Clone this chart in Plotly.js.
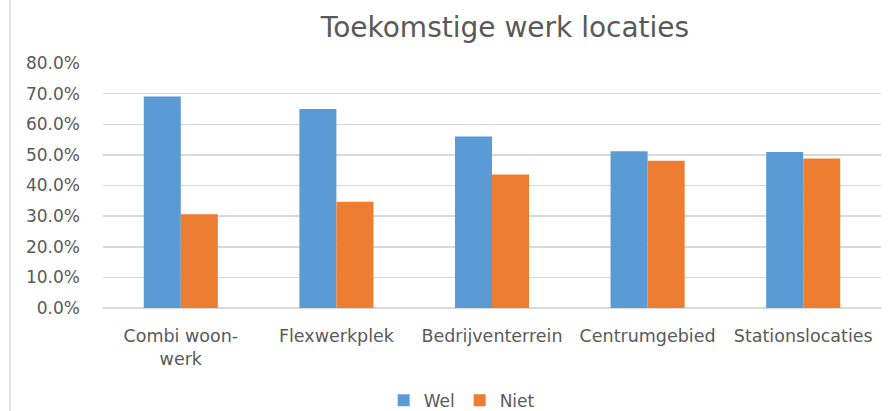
<!DOCTYPE html>
<html>
<head>
<meta charset="utf-8">
<script src="https://cdn.plot.ly/plotly-3.0.1.min.js"></script>
<style>html,body{margin:0;padding:0;background:#fff;}#chart{width:896px;height:411px;}</style>
</head>
<body>
<div id="chart"></div>
<script>
const categories = ["Combi woon-<br>werk", "Flexwerkplek", "Bedrijventerrein", "Centrumgebied", "Stationslocaties"];
const welValues = [69.1, 65.0, 56.0, 51.2, 50.9];
const nietValues = [30.6, 34.7, 43.6, 48.1, 48.8];
const yTicks = [0, 10, 20, 30, 40, 50, 60, 70, 80];

const font = "DejaVu Sans, sans-serif";
const textColor = "#595959";

const traces = [
  {type: "bar", name: "Wel", x: categories, y: welValues, marker: {color: "#5B9BD5"}, hoverinfo: "skip"},
  {type: "bar", name: "Niet", x: categories, y: nietValues, marker: {color: "#ED7D31"}, hoverinfo: "skip"}
];

const layout = {
  width: 896, height: 411,
  margin: {l: 103, r: 15, t: 63, b: 103, pad: 0, autoexpand: false},
  paper_bgcolor: "#ffffff", plot_bgcolor: "#ffffff",
  font: {family: font, color: textColor, size: 15},
  title: {text: "Toekomstige werk locaties", x: 505/896, xanchor: "center", xref: "container", y: 1 - 27/411, yanchor: "middle", yref: "container",
          font: {family: font, size: 28, color: textColor}},
  barmode: "group", bargap: 0.524, bargroupgap: 0,
  showlegend: true,
  legend: {orientation: "h", x: 0.461, xanchor: "center", y: -0.305, yanchor: "top", font: {family: font, size: 17, color: textColor}, itemwidth: 30, traceorder: "normal"},
  xaxis: {type: "category", showgrid: false, zeroline: false, showline: false, ticks: "outside", ticklen: 12, tickcolor: "rgba(0,0,0,0)",
          automargin: false, tickfont: {family: font, size: 17.5, color: textColor}},
  yaxis: {range: [0, 80], tickvals: yTicks, ticktext: yTicks.map(v => v.toFixed(1) + "%"), showgrid: true, gridcolor: "#d9d9d9", gridwidth: 1.5,
          zeroline: true, zerolinecolor: "#d9d9d9", zerolinewidth: 1.5, showline: false, ticks: "", ticklabelstandoff: 22, automargin: false,
          tickfont: {family: font, size: 17, color: textColor}},
  shapes: [{type: "line", xref: "paper", yref: "paper", x0: (10 - 103) / 778, x1: (10 - 103) / 778, y0: -1, y1: 2, line: {color: "#d9d9d9", width: 1.5}}]
};

Plotly.newPlot("chart", traces, layout, {displayModeBar: false, staticPlot: true});
</script>
</body>
</html>
